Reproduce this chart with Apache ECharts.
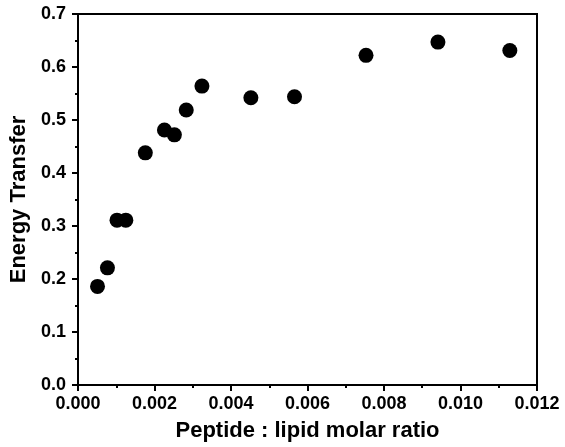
<!DOCTYPE html>
<html>
<head>
<meta charset="UTF-8">
<title>energy transfer</title>
<script src="https://cdn.jsdelivr.net/npm/echarts@6/dist/echarts.min.js"></script>
<style>
  html, body { margin: 0; padding: 0; background: #fff; }
  #chart { width: 565px; height: 447px; }
</style>
</head>
<body>
<div id="chart"></div>
<script>
// peptide : lipid molar ratio vs energy transfer
var ratio = [0.00051, 0.00077, 0.00102, 0.00125, 0.00176, 0.00226, 0.00252,
             0.00283, 0.00324, 0.00452, 0.00566, 0.00753, 0.00941, 0.01129];
var transfer = [0.186, 0.221, 0.311, 0.311, 0.438, 0.481, 0.472,
                0.519, 0.564, 0.542, 0.544, 0.622, 0.647, 0.631];

var pts = [];
for (var i = 0; i < ratio.length; i++) {
  pts.push([ratio[i], transfer[i]]);
}

var font = 'Liberation Sans, Arial, sans-serif';
var chart = echarts.init(document.getElementById('chart'));
chart.setOption({
  animation: false,
  grid: {
    left: 78, right: 28, top: 14, bottom: 56,
    show: true, borderColor: '#000', borderWidth: 2
  },
  xAxis: {
    type: 'value',
    min: 0, max: 0.012, interval: 0.002,
    name: 'Peptide : lipid molar ratio',
    nameLocation: 'middle',
    nameGap: 35,
    nameTextStyle: { fontFamily: font, fontWeight: 'bold', fontSize: 22, color: '#000' },
    axisLine: { show: true, lineStyle: { color: '#000', width: 2 } },
    axisTick: { show: true, length: 6, lineStyle: { color: '#000', width: 2 } },
    minorTick: { show: true, splitNumber: 2, length: 3, lineStyle: { color: '#000', width: 2 } },
    splitLine: { show: false },
    axisLabel: {
      fontFamily: font, fontWeight: 'bold', fontSize: 18, color: '#000', margin: 10,
      formatter: function (v) { return v.toFixed(3); }
    }
  },
  yAxis: {
    type: 'value',
    min: 0, max: 0.7, interval: 0.1,
    name: 'Energy Transfer',
    nameLocation: 'middle',
    nameGap: 46,
    nameTextStyle: { fontFamily: font, fontWeight: 'bold', fontSize: 22, color: '#000' },
    axisLine: { show: true, lineStyle: { color: '#000', width: 2 } },
    axisTick: { show: true, length: 6, lineStyle: { color: '#000', width: 2 } },
    minorTick: { show: true, splitNumber: 2, length: 3, lineStyle: { color: '#000', width: 2 } },
    splitLine: { show: false },
    axisLabel: {
      fontFamily: font, fontWeight: 'bold', fontSize: 18, color: '#000', margin: 12,
      formatter: function (v) { return v.toFixed(1); }
    }
  },
  series: [{
    type: 'scatter',
    data: pts,
    symbol: 'circle',
    symbolSize: 15,
    itemStyle: { color: '#000', opacity: 1 }
  }]
});
</script>
</body>
</html>
